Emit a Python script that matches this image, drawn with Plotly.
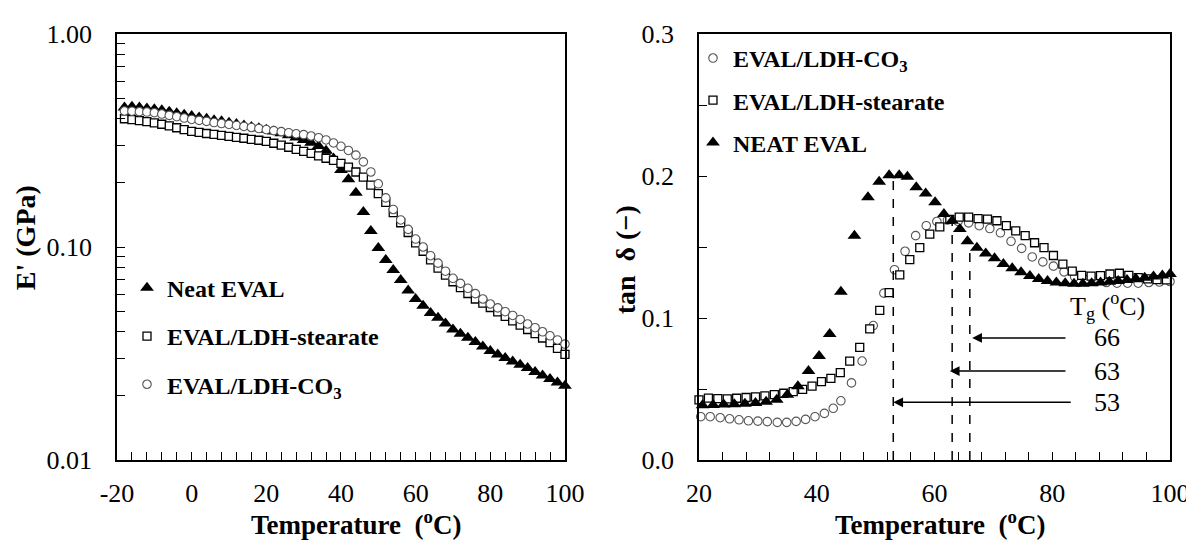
import plotly.graph_objects as go

# ---------------- Left panel: storage modulus E' (GPa) ----------------
T_left = [-18, -16, -14, -12, -10, -8, -6, -4, -2, 0,
          2, 4, 6, 8, 10, 12, 14, 16, 18, 20,
          22, 24, 26, 28, 30, 32, 34, 36, 38, 40,
          42, 44, 46, 48, 50, 52, 54, 56, 58, 60,
          62, 64, 66, 68, 70, 72, 74, 76, 78, 80,
          82, 84, 86, 88, 90, 92, 94, 96, 98, 100]
E_neat = [.452, .455, .452, .447, .443, .438, .432, .425, .418, .412,
          .406, .400, .394, .389, .383, .378, .372, .366, .361, .355,
          .349, .342, .335, .327, .318, .309, .298, .283, .260, .230,
          .208, .180, .146, .119, .099, .087, .078, .070, .0625, .057,
          .053, .049, .0465, .0437, .041, .0392, .0375, .0358, .0341, .0325,
          .0313, .0301, .029, .028, .027, .0259, .0249, .0240, .0231, .0223]
E_stearate = [.400, .396, .392, .388, .383, .377, .370, .363, .356, .349,
              .345, .341, .338, .334, .331, .327, .324, .320, .317, .313,
              .307, .301, .294, .287, .281, .275, .268, .261, .255, .247,
              .237, .225, .213, .195, .178, .162, .145, .130, .117, .1045,
              .0955, .087, .0795, .0738, .0687, .0645, .0605, .057, .0545, .052,
              .0496, .0472, .045, .043, .041, .0392, .0374, .0356, .0334, .0313]
E_co3 = [.435, .434, .432, .430, .427, .421, .415, .409, .403, .397,
         .393, .389, .384, .380, .376, .372, .368, .364, .360, .356,
         .352, .348, .344, .340, .337, .332, .326, .318, .308, .297,
         .284, .270, .251, .225, .198, .170, .150, .134, .121, .109,
         .100, .091, .084, .077, .0713, .0675, .064, .0604, .057, .054,
         .0518, .0497, .0477, .0457, .0435, .0418, .0400, .0383, .0366, .035]

# ---------------- Right panel: tan delta ----------------
T_neat_r = [20.6, 22.4, 24.2, 26.0, 27.8, 29.6, 31.4, 33.2, 35.0, 36.8,
            38.6, 40.4, 42.2, 44.1, 46.4, 48.7, 50.6, 52.3, 54.0, 55.4,
            56.9, 58.5, 60.1, 61.6, 63.0, 64.3, 65.6, 67.2, 68.7, 70.2,
            71.7, 73.2, 74.7, 76.2, 77.7, 79.2, 80.7, 82.2, 83.7, 85.2,
            86.7, 88.2, 89.7, 91.2, 92.7, 94.2, 95.7, 97.2, 98.7, 100.0]
tan_neat = [.0385, .0388, .039, .0393, .0397, .0402, .041, .0425, .046, .052,
            .0626, .0733, .0888, .1185, .158, .185, .196, .2006, .2006, .1995,
            .192, .1876, .1816, .1733, .1685, .1626, .154, .1495, .1455, .142,
            .138, .135, .1322, .1295, .1275, .126, .125, .1245, .1242, .1242,
            .1245, .125, .1255, .126, .1268, .1276, .1284, .1292, .130, .131]

T_stearate_r = [20.0, 21.6, 23.2, 24.8, 26.4, 28.0, 29.6, 31.2, 32.8, 34.4,
                36.0, 37.6, 39.2, 40.8, 42.4, 44.0, 45.6, 47.3, 49.0, 50.7,
                52.3, 54.1, 55.8, 57.5, 59.2, 60.9, 62.6, 64.2, 65.8, 67.4,
                69.0, 70.6, 72.2, 73.8, 75.4, 77.0, 78.6, 80.2, 81.8, 83.4,
                85.0, 86.6, 88.2, 89.8, 91.4, 93.0, 94.6, 96.2, 97.8, 99.4]
tan_stearate = [.0424, .0436, .0432, .0430, .0435, .0440, .0445, .0452, .046, .047,
                .0482, .0497, .052, .0552, .0575, .0615, .0697, .0793, .0923, .1054,
                .1178, .1304, .1411, .1495, .159, .1642, .1695, .171, .171, .1700,
                .1697, .1685, .165, .1614, .158, .153, .1495, .144, .138, .133,
                .130, .1295, .1298, .131, .1315, .130, .1285, .1275, .127, .1268]

T_co3_r = [20.3, 21.9, 23.6, 25.2, 26.8, 28.4, 30.0, 31.6, 33.3, 34.9,
           36.5, 38.1, 39.7, 41.3, 42.8, 44.1, 45.9, 47.7, 49.6, 51.4,
           53.2, 55.0, 56.8, 58.6, 60.4, 62.2, 64.0, 65.8, 67.6, 69.4,
           71.2, 73.0, 74.8, 76.6, 78.4, 80.2, 82.0, 83.8, 85.6, 87.4,
           89.2, 91.0, 92.8, 94.6, 96.4, 98.2, 100.0]
tan_co3 = [.0305, .0305, .0298, .0290, .0283, .0276, .0274, .0270, .0265, .0265,
           .0272, .0286, .0305, .0328, .0364, .0417, .0543, .0697, .0947, .1175,
           .134, .147, .158, .165, .168, .169, .168, .167, .165, .163,
           .160, .154, .149, .143, .1395, .1365, .1325, .129, .127, .1257,
           .125, .1245, .1245, .1245, .125, .1253, .1257]

# Tg markers
tg_values = [53, 63, 66]
tg_tops = [0.198, 0.168, 0.155]
tg_label_y = [0.0406, 0.0626, 0.086]
tg_arrow_x = [53.0, 62.6, 66.4]
tg_tail_x = [83.4, 82.5, 82.5]
tg_label_x = 89.3

FONT = "Liberation Serif"

tri = dict(symbol="triangle-up", size=12, color="black", line=dict(width=0))
sq = dict(symbol="square", size=8, color="white", line=dict(color="black", width=1.3))
circ = dict(symbol="circle", size=8.5, color="white", line=dict(color="#555555", width=1.1))

fig = go.Figure()

# left panel traces (drawn in series order)
fig.add_trace(go.Scatter(x=T_left, y=E_neat, mode="markers", marker=tri, name="Neat EVAL",
                         xaxis="x", yaxis="y", legend="legend", legendgroup="a", cliponaxis=False))
fig.add_trace(go.Scatter(x=T_left, y=E_stearate, mode="markers", marker=sq, name="EVAL/LDH-stearate",
                         xaxis="x", yaxis="y", legend="legend", legendgroup="b", cliponaxis=False))
fig.add_trace(go.Scatter(x=T_left, y=E_co3, mode="markers", marker=circ, name="EVAL/LDH-CO<sub>3</sub>",
                         xaxis="x", yaxis="y", legend="legend", legendgroup="c", cliponaxis=False))

# right panel traces
fig.add_trace(go.Scatter(x=T_co3_r, y=tan_co3, mode="markers", marker=circ, name="EVAL/LDH-CO<sub>3</sub>",
                         xaxis="x2", yaxis="y2", legend="legend2", legendgroup="d", cliponaxis=False))
fig.add_trace(go.Scatter(x=T_stearate_r, y=tan_stearate, mode="markers", marker=sq, name="EVAL/LDH-stearate",
                         xaxis="x2", yaxis="y2", legend="legend2", legendgroup="e", cliponaxis=False))
fig.add_trace(go.Scatter(x=T_neat_r, y=tan_neat, mode="markers", marker=tri, name="NEAT EVAL",
                         xaxis="x2", yaxis="y2", legend="legend2", legendgroup="f", cliponaxis=False))

# dashed Tg lines
for tg, top in zip(tg_values, tg_tops):
    fig.add_shape(type="line", xref="x2", yref="y2", x0=tg, x1=tg, y0=0, y1=top,
                  line=dict(color="black", width=1.5, dash="dash"))

annotations = []
for tg_txt, ly, hx, tx in zip(tg_values, tg_label_y, tg_arrow_x, tg_tail_x):
    annotations.append(dict(xref="x2", yref="y2", x=hx, y=ly, ax=tx, ay=ly, axref="x2", ayref="y2",
                            text="", showarrow=True, arrowhead=2, arrowsize=1.3, arrowwidth=1.5,
                            arrowcolor="black"))
    annotations.append(dict(xref="x2", yref="y2", x=tg_label_x, y=ly, text=str(tg_txt),
                            showarrow=False, font=dict(family=FONT, size=26, color="black")))
annotations.append(dict(xref="x2", yref="y2", x=tg_label_x, y=0.1087, text="T<sub>g</sub> (<sup>o</sup>C)",
                        showarrow=False, font=dict(family=FONT, size=26, color="black")))

# axis titles
title_font = dict(family=FONT, size=27, color="black", weight="bold")
annotations.append(dict(xref="paper", yref="paper", x=0.2274, y=-0.147, text="Temperature\u00a0\u00a0(<sup>o</sup>C)",
                        showarrow=False, font=title_font, xanchor="center", yanchor="middle"))
annotations.append(dict(xref="paper", yref="paper", x=0.7816, y=-0.147, text="Temperature\u00a0\u00a0(<sup>o</sup>C)",
                        showarrow=False, font=title_font, xanchor="center", yanchor="middle"))
annotations.append(dict(xref="paper", yref="paper", x=-0.0874, y=0.523, text="E' (GPa)", textangle=-90,
                        showarrow=False, font=dict(family=FONT, size=28, color="black", weight="bold"),
                        xanchor="center", yanchor="middle"))
annotations.append(dict(xref="paper", yref="paper", x=0.4824, y=0.471, text="tan\u00a0\u00a0δ (−)", textangle=-90,
                        showarrow=False, font=dict(family=FONT, size=28, color="black", weight="bold"),
                        xanchor="center", yanchor="middle"))

tick_font = dict(family=FONT, size=26, color="black")
axis_common = dict(showgrid=False, zeroline=False, showline=True, linecolor="black", linewidth=1.5,
                   mirror=True, ticks="inside", ticklen=8, tickwidth=1.3, tickcolor="black",
                   tickfont=tick_font, ticklabeloverflow="allow")

xl_vals = list(range(-20, 101, 4))
xl_text = [str(v) if v % 20 == 0 else "" for v in xl_vals]
yl_vals = [0.01 * k for k in range(1, 10)] + [0.1 * k for k in range(1, 10)] + [1.0]
yl_text = ["0.01"] + [""] * 8 + ["0.10"] + [""] * 8 + ["1.00"]
xr_vals = list(range(20, 101, 4))
xr_text = [str(v) if v % 20 == 0 else "" for v in xr_vals]
yr_vals = [0, 0.05, 0.1, 0.15, 0.2, 0.25, 0.3]
yr_text = ["0.0", "", "0.1", "", "0.2", "", "0.3"]

legend_font = dict(family=FONT, size=24, color="black", weight="bold")

fig.update_layout(
    width=1194, height=540,
    margin=dict(l=109, r=32, t=12, b=88),
    paper_bgcolor="white", plot_bgcolor="white",
    xaxis=dict(domain=[0, 0.4254], range=[-20, 100], tickvals=xl_vals, ticktext=xl_text,
               ticklabelstandoff=9, anchor="y", **axis_common),
    yaxis=dict(type="log", range=[-2, 0], tickvals=yl_vals, ticktext=yl_text,
               ticklabelstandoff=18, anchor="x", **axis_common),
    xaxis2=dict(domain=[0.5527, 1], range=[20, 100], tickvals=xr_vals, ticktext=xr_text,
                ticklabelstandoff=9, anchor="y2", **axis_common),
    yaxis2=dict(range=[0, 0.3], tickvals=yr_vals, ticktext=yr_text,
                ticklabelstandoff=18, anchor="x2", **axis_common),
    legend=dict(x=0.0095, y=0.456, xanchor="left", yanchor="top", bgcolor="rgba(0,0,0,0)",
                font=legend_font, traceorder="grouped", tracegroupgap=14, itemwidth=30),
    legend2=dict(x=0.547, y=0.9955, xanchor="left", yanchor="top", bgcolor="rgba(0,0,0,0)",
                 font=legend_font, traceorder="grouped", tracegroupgap=8, itemwidth=30),
    annotations=annotations,
    showlegend=True,
)

fig.write_html("out.html")
